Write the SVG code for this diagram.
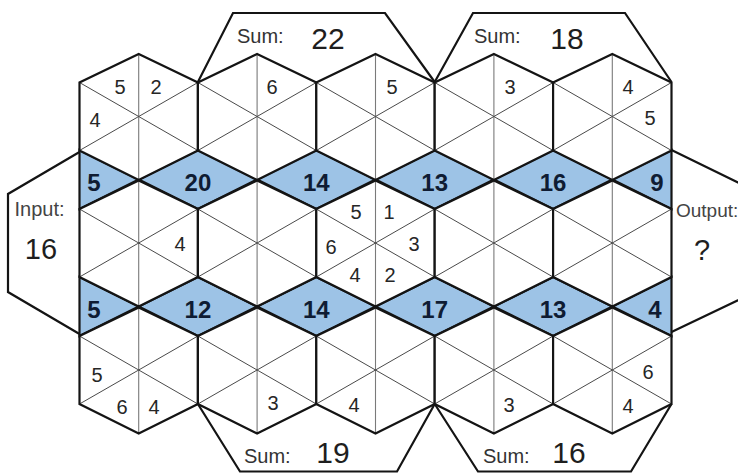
<svg xmlns="http://www.w3.org/2000/svg" xmlns:xlink="http://www.w3.org/1999/xlink" width="738" height="473" viewBox="0 0 738 473">
<style>
.hf{fill:#fff}
.he{fill:none;stroke:#141414;stroke-width:2.2;stroke-linejoin:miter}
.v{stroke:#7a7a7a;stroke-width:1.1}
.d{stroke:#4a4a4a;stroke-width:1}
.bl{fill:#9dc3e6;stroke:#141414;stroke-width:2.2;stroke-linejoin:miter}
.sh{fill:#fff;stroke:#141414;stroke-width:2.2;stroke-linejoin:miter}
text{font-family:"Liberation Sans",Arial,Helvetica,sans-serif}
.n{font-size:20px;fill:#262626;text-anchor:middle}
.b{font-size:24px;font-weight:bold;fill:#0f1c33;text-anchor:middle}
.s{font-size:20px;fill:#333}
.sn{font-size:30px;fill:#1e1e1e;text-anchor:middle}
.io{font-size:20px;fill:#444;text-anchor:middle}
.ion{font-size:29px;fill:#1e1e1e;text-anchor:middle}
</style>
<defs>
<g id="cell">
<polygon class="hf" points="0,-62.5 59.2,-34 59.2,34 0,63.5 -59.2,34 -59.2,-34"/>
<line class="v" x1="0" y1="-62.5" x2="0" y2="63.5"/>
<line class="d" x1="-59.2" y1="-34" x2="59.2" y2="34"/>
<line class="d" x1="-59.2" y1="34" x2="59.2" y2="-34"/>
<polygon class="he" points="0,-62.5 59.2,-34 59.2,34 0,63.5 -59.2,34 -59.2,-34"/>
</g>
</defs>
<rect width="738" height="473" fill="#fff"/>

<g id="sum-top-1">
<polyline class="sh" points="197.9,82 233,13 385,13 434.7,82"/>
<text class="s" x="237" y="43">Sum:</text>
<text class="sn" x="328" y="49">22</text>
</g>
<g id="sum-top-2">
<polyline class="sh" points="434.7,82 473,13 625,13 671.5,82"/>
<text class="s" x="474" y="43">Sum:</text>
<text class="sn" x="567" y="49">18</text>
</g>
<g id="sum-bottom-1">
<polyline class="sh" points="197.9,404 240,471.5 397,471.5 434.7,404"/>
<text class="s" x="244" y="463">Sum:</text>
<text class="sn" x="333" y="463">19</text>
</g>
<g id="sum-bottom-2">
<polyline class="sh" points="434.7,404 478,471.5 631,471.5 671.5,404"/>
<text class="s" x="483" y="463">Sum:</text>
<text class="sn" x="569" y="463">16</text>
</g>
<g id="input">
<polyline class="sh" points="79.5,152 8,194 8,292 79.5,334"/>
<text class="io" x="39.5" y="216">Input:</text>
<text class="ion" x="41" y="259">16</text>
</g>
<g id="output">
<polyline class="sh" points="671.5,150 745,186 745,297 671.5,332"/>
<text class="s" style="font-size:19px;fill:#444" x="676" y="217">Output:</text>
<text class="ion" x="702" y="260">?</text>
</g>

<g id="blue-top">
<g id="bt0"><polygon class="bl" points="79.5,150 138.7,179.5 79.5,209"/><text class="b" x="94" y="190.5">5</text></g>
<g id="bt1"><polygon class="bl" points="138.7,179.5 197.9,150 257.1,179.5 197.9,209"/><text class="b" x="197.9" y="190.5">20</text></g>
<g id="bt2"><polygon class="bl" points="257.1,179.5 316.3,150 375.5,179.5 316.3,209"/><text class="b" x="316.3" y="190.5">14</text></g>
<g id="bt3"><polygon class="bl" points="375.5,179.5 434.7,150 493.9,179.5 434.7,209"/><text class="b" x="434.7" y="190.5">13</text></g>
<g id="bt4"><polygon class="bl" points="493.9,179.5 553.1,150 612.3,179.5 553.1,209"/><text class="b" x="553" y="190.5">16</text></g>
<g id="bt5"><polygon class="bl" points="671.5,150 612.3,179.5 671.5,209"/><text class="b" x="657" y="190.5">9</text></g>
</g>
<g id="blue-bottom">
<g id="bb0"><polygon class="bl" points="79.5,277 138.7,306.5 79.5,336"/><text class="b" x="94" y="317.5">5</text></g>
<g id="bb1"><polygon class="bl" points="138.7,306.5 197.9,277 257.1,306.5 197.9,336"/><text class="b" x="197.9" y="317.5">12</text></g>
<g id="bb2"><polygon class="bl" points="257.1,306.5 316.3,277 375.5,306.5 316.3,336"/><text class="b" x="316.3" y="317.5">14</text></g>
<g id="bb3"><polygon class="bl" points="375.5,306.5 434.7,277 493.9,306.5 434.7,336"/><text class="b" x="434.7" y="317.5">17</text></g>
<g id="bb4"><polygon class="bl" points="493.9,306.5 553.1,277 612.3,306.5 553.1,336"/><text class="b" x="553" y="317.5">13</text></g>
<g id="bb5"><polygon class="bl" points="671.5,277 612.3,306.5 671.5,336"/><text class="b" x="655" y="317.5">4</text></g>
</g>

<g id="hex-top-1"><use xlink:href="#cell" x="138.7" y="116.5"/>
<text class="n" x="120" y="94">5</text><text class="n" x="156" y="94">2</text><text class="n" x="95" y="127">4</text></g>
<g id="hex-top-2"><use xlink:href="#cell" x="257.1" y="116.5"/><text class="n" x="272" y="94">6</text></g>
<g id="hex-top-3"><use xlink:href="#cell" x="375.5" y="116.5"/><text class="n" x="392" y="94">5</text></g>
<g id="hex-top-4"><use xlink:href="#cell" x="493.9" y="116.5"/><text class="n" x="510" y="94">3</text></g>
<g id="hex-top-5"><use xlink:href="#cell" x="612.3" y="116.5"/>
<text class="n" x="628" y="94">4</text><text class="n" x="650" y="125">5</text></g>

<g id="hex-mid-1"><use xlink:href="#cell" x="138.7" y="243"/><text class="n" x="180" y="251">4</text></g>
<g id="hex-mid-2"><use xlink:href="#cell" x="257.1" y="243"/></g>
<g id="hex-mid-3"><use xlink:href="#cell" x="375.5" y="243"/>
<text class="n" x="356" y="219">5</text><text class="n" x="389" y="219">1</text>
<text class="n" x="331" y="254">6</text><text class="n" x="414" y="251">3</text>
<text class="n" x="355" y="282">4</text><text class="n" x="390" y="282">2</text></g>
<g id="hex-mid-4"><use xlink:href="#cell" x="493.9" y="243"/></g>
<g id="hex-mid-5"><use xlink:href="#cell" x="612.3" y="243"/></g>

<g id="hex-bot-1"><use xlink:href="#cell" x="138.7" y="370"/>
<text class="n" x="97" y="382">5</text><text class="n" x="122" y="414">6</text><text class="n" x="154" y="414">4</text></g>
<g id="hex-bot-2"><use xlink:href="#cell" x="257.1" y="370"/><text class="n" x="273" y="410">3</text></g>
<g id="hex-bot-3"><use xlink:href="#cell" x="375.5" y="370"/><text class="n" x="354" y="412">4</text></g>
<g id="hex-bot-4"><use xlink:href="#cell" x="493.9" y="370"/><text class="n" x="509" y="412">3</text></g>
<g id="hex-bot-5"><use xlink:href="#cell" x="612.3" y="370"/>
<text class="n" x="648" y="379">6</text><text class="n" x="628" y="413">4</text></g>

<g id="connectors"/>
</svg>
